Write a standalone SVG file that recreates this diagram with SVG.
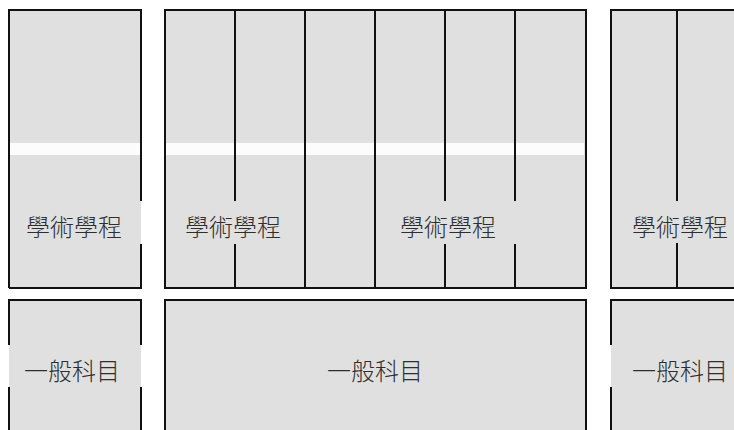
<svg xmlns="http://www.w3.org/2000/svg" width="734" height="430" viewBox="0 0 734 430">
<style>
.fill{fill:#e0e0e0;stroke:none}
.band{fill:#fcfcfc;stroke:none}
.edge{fill:none;stroke:#111;stroke-width:2;stroke-linecap:butt}
.lbl{font-family:"Noto Sans CJK TC","Noto Sans CJK SC",sans-serif;font-size:24px;font-weight:300;fill:#2e2e2e;text-anchor:middle;dominant-baseline:central}
</style>
<rect width="734" height="430" fill="#ffffff"/>
<g id="top-left">
<rect class="fill" x="9" y="10" width="132" height="278"/>
<rect class="band" x="10" y="143" width="130" height="12"/>
<path class="edge" d="M9 288 V10 H141 V201 M141 244 V288 H9"/>
<text class="lbl" x="74" y="225">學術學程</text>
</g>
<g id="top-middle">
<rect class="fill" x="165" y="10" width="421" height="278"/>
<rect class="band" x="166" y="143" width="418" height="12"/>
<path class="edge" d="M165 10 H586 V288 H165 Z"/>
<path class="edge" d="M235 10 V201 M235 244 V288 M305 10 V288 M375 10 V288 M445 10 V201 M445 244 V288 M515 10 V201 M515 244 V288"/>
<text class="lbl" x="233" y="225">學術學程</text>
<text class="lbl" x="448" y="225">學術學程</text>
</g>
<g id="top-right">
<rect class="fill" x="611" y="10" width="130" height="278"/>
<path class="edge" d="M740 10 H611 V288 H740"/>
<path class="edge" d="M677 10 V201 M677 243 V288"/>
<text class="lbl" x="680" y="225">學術學程</text>
</g>
<g id="bottom-left">
<rect class="fill" x="9" y="300" width="132" height="140"/>
<path class="edge" d="M9 440 V387 M9 345 V300 H141 V345 M141 387 V440"/>
<text class="lbl" x="72" y="369">一般科目</text>
</g>
<g id="bottom-middle">
<rect class="fill" x="165" y="300" width="421" height="140"/>
<path class="edge" d="M165 440 V300 H586 V440"/>
<text class="lbl" x="375" y="369">一般科目</text>
</g>
<g id="bottom-right">
<rect class="fill" x="611" y="300" width="130" height="140"/>
<path class="edge" d="M611 440 V387 M611 345 V300 H740"/>
<text class="lbl" x="680" y="369">一般科目</text>
</g>
<g id="connectors"/>
</svg>
